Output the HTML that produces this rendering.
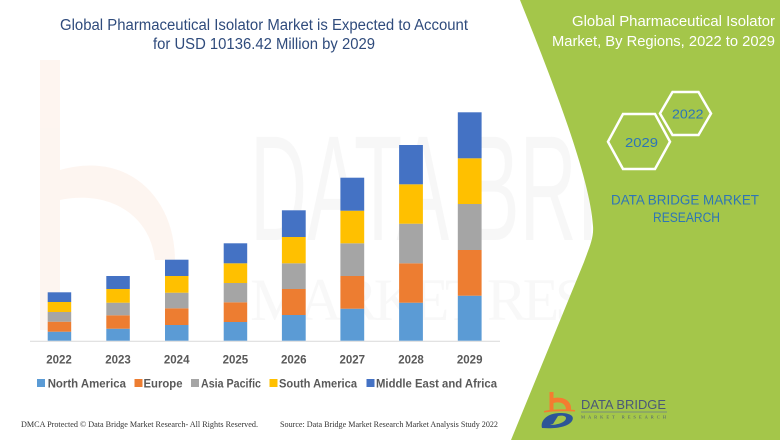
<!DOCTYPE html>
<html>
<head>
<meta charset="utf-8">
<style>
html,body{margin:0;padding:0;background:#fff;}
svg{display:block;}
</style>
</head>
<body>
<svg width="780" height="440" viewBox="0 0 780 440" xmlns="http://www.w3.org/2000/svg">
  <rect width="780" height="440" fill="#ffffff"/>
  <!-- faint watermark -->
  <g opacity="0.5">
    <path d="M40,60 L40,330 L60,330 L60,60 Z" fill="#fdece2"/>
    <path d="M60,170 C130,150 175,200 175,260 L155,260 C150,215 110,190 60,200 Z" fill="#fdece2"/>
    <text x="250" y="240" font-family="Liberation Sans, sans-serif" font-size="150" fill="#f1f1f1" textLength="520" lengthAdjust="spacingAndGlyphs">DATA BRIDGE</text>
    <text x="250" y="320" font-family="Liberation Serif, serif" font-size="60" fill="#f3f3f3" textLength="520" lengthAdjust="spacing">MARKET RESEARCH</text>
  </g>
  <!-- green panel -->
  <path d="M520,0 C548,70 590,175 593,226 C594,238 589,248 584,262 L511,440 L780,440 L780,0 Z" fill="#a4c64a"/>

  <!-- title -->
  <text x="60" y="30" font-family="Liberation Sans, sans-serif" font-size="15.5" fill="#2f4b7c" textLength="408" lengthAdjust="spacingAndGlyphs">Global Pharmaceutical Isolator Market is Expected to Account</text>
  <text x="153" y="49" font-family="Liberation Sans, sans-serif" font-size="15.5" fill="#2f4b7c" textLength="222" lengthAdjust="spacingAndGlyphs">for USD 10136.42 Million by 2029</text>

  <!-- right title -->
  <text x="572" y="26" font-family="Liberation Sans, sans-serif" font-size="14.5" fill="#ffffff" textLength="203" lengthAdjust="spacingAndGlyphs">Global Pharmaceutical Isolator</text>
  <text x="552" y="46" font-family="Liberation Sans, sans-serif" font-size="14.5" fill="#ffffff" textLength="223" lengthAdjust="spacingAndGlyphs">Market, By Regions, 2022 to 2029</text>

  <!-- hexagons -->
  <polygon points="660,113.5 672.5,92 698.5,92 711,113.5 698.5,135 672.5,135" fill="none" stroke="#ffffff" stroke-width="2.5"/>
  <polygon points="608,141.7 623,114 655,114 670,141.7 655,169 623,169" fill="none" stroke="#ffffff" stroke-width="2.5"/>
  <text x="672" y="118.5" font-family="Liberation Sans, sans-serif" font-size="12.5" fill="#2e75b6" textLength="31.5" lengthAdjust="spacingAndGlyphs">2022</text>
  <text x="625" y="146.8" font-family="Liberation Sans, sans-serif" font-size="13" fill="#2e75b6" textLength="33" lengthAdjust="spacingAndGlyphs">2029</text>

  <text x="611" y="204.5" font-family="Liberation Sans, sans-serif" font-size="13.5" fill="#2e75b6" textLength="148" lengthAdjust="spacingAndGlyphs">DATA BRIDGE MARKET</text>
  <text x="653" y="222" font-family="Liberation Sans, sans-serif" font-size="13.5" fill="#2e75b6" textLength="67" lengthAdjust="spacingAndGlyphs">RESEARCH</text>

  <!-- axis line -->
  <line x1="30" y1="341.2" x2="500" y2="341.2" stroke="#d9d9d9" stroke-width="1"/>

  <!-- bars -->
  <g>
    <!-- 2022 -->
    <rect x="47.7" y="331.7" width="23.5" height="9" fill="#5b9bd5"/>
    <rect x="47.7" y="321.7" width="23.5" height="10" fill="#ed7d31"/>
    <rect x="47.7" y="312" width="23.5" height="9.7" fill="#a5a5a5"/>
    <rect x="47.7" y="302" width="23.5" height="10" fill="#ffc000"/>
    <rect x="47.7" y="292.3" width="23.5" height="9.7" fill="#4472c4"/>
    <!-- 2023 -->
    <rect x="106.3" y="328.7" width="23.5" height="12" fill="#5b9bd5"/>
    <rect x="106.3" y="315.3" width="23.5" height="13.4" fill="#ed7d31"/>
    <rect x="106.3" y="302.7" width="23.5" height="12.6" fill="#a5a5a5"/>
    <rect x="106.3" y="289" width="23.5" height="13.7" fill="#ffc000"/>
    <rect x="106.3" y="276" width="23.5" height="13" fill="#4472c4"/>
    <!-- 2024 -->
    <rect x="165" y="325" width="23.5" height="15.7" fill="#5b9bd5"/>
    <rect x="165" y="308.3" width="23.5" height="16.7" fill="#ed7d31"/>
    <rect x="165" y="292.7" width="23.5" height="15.6" fill="#a5a5a5"/>
    <rect x="165" y="276" width="23.5" height="16.7" fill="#ffc000"/>
    <rect x="165" y="259.7" width="23.5" height="16.3" fill="#4472c4"/>
    <!-- 2025 -->
    <rect x="223.7" y="322" width="23.5" height="18.7" fill="#5b9bd5"/>
    <rect x="223.7" y="302.3" width="23.5" height="19.7" fill="#ed7d31"/>
    <rect x="223.7" y="283" width="23.5" height="19.3" fill="#a5a5a5"/>
    <rect x="223.7" y="263.3" width="23.5" height="19.7" fill="#ffc000"/>
    <rect x="223.7" y="243.3" width="23.5" height="20" fill="#4472c4"/>
    <!-- 2026 -->
    <rect x="281.9" y="315" width="23.8" height="25.7" fill="#5b9bd5"/>
    <rect x="281.9" y="289" width="23.8" height="26" fill="#ed7d31"/>
    <rect x="281.9" y="263.3" width="23.8" height="25.7" fill="#a5a5a5"/>
    <rect x="281.9" y="237" width="23.8" height="26.3" fill="#ffc000"/>
    <rect x="281.9" y="210.3" width="23.8" height="26.7" fill="#4472c4"/>
    <!-- 2027 -->
    <rect x="340.4" y="308.7" width="23.8" height="32" fill="#5b9bd5"/>
    <rect x="340.4" y="276" width="23.8" height="32.7" fill="#ed7d31"/>
    <rect x="340.4" y="243.3" width="23.8" height="32.7" fill="#a5a5a5"/>
    <rect x="340.4" y="210.7" width="23.8" height="32.6" fill="#ffc000"/>
    <rect x="340.4" y="177.7" width="23.8" height="33" fill="#4472c4"/>
    <!-- 2028 -->
    <rect x="399.1" y="302.7" width="23.8" height="38" fill="#5b9bd5"/>
    <rect x="399.1" y="263.3" width="23.8" height="39.4" fill="#ed7d31"/>
    <rect x="399.1" y="223.7" width="23.8" height="39.6" fill="#a5a5a5"/>
    <rect x="399.1" y="184.3" width="23.8" height="39.4" fill="#ffc000"/>
    <rect x="399.1" y="145" width="23.8" height="39.3" fill="#4472c4"/>
    <!-- 2029 -->
    <rect x="457.8" y="295.7" width="23.8" height="45" fill="#5b9bd5"/>
    <rect x="457.8" y="250" width="23.8" height="45.7" fill="#ed7d31"/>
    <rect x="457.8" y="204" width="23.8" height="46" fill="#a5a5a5"/>
    <rect x="457.8" y="158.3" width="23.8" height="45.7" fill="#ffc000"/>
    <rect x="457.8" y="112.3" width="23.8" height="46" fill="#4472c4"/>
  </g>

  <!-- year labels -->
  <g font-family="Liberation Sans, sans-serif" font-size="11.5" font-weight="bold" fill="#595959" text-anchor="middle">
    <text x="59" y="363.5">2022</text>
    <text x="118" y="363.5">2023</text>
    <text x="176.7" y="363.5">2024</text>
    <text x="235.4" y="363.5">2025</text>
    <text x="293.8" y="363.5">2026</text>
    <text x="352.3" y="363.5">2027</text>
    <text x="411" y="363.5">2028</text>
    <text x="469.7" y="363.5">2029</text>
  </g>

  <!-- legend -->
  <g font-family="Liberation Sans, sans-serif" font-size="11.5" font-weight="bold" fill="#595959">
    <rect x="37" y="379" width="8" height="8" fill="#5b9bd5"/>
    <text x="47.7" y="387.5" textLength="78.3" lengthAdjust="spacingAndGlyphs">North America</text>
    <rect x="134.5" y="379" width="8" height="8" fill="#ed7d31"/>
    <text x="143.5" y="387.5" textLength="39" lengthAdjust="spacingAndGlyphs">Europe</text>
    <rect x="191" y="379" width="8" height="8" fill="#a5a5a5"/>
    <text x="201" y="387.5" textLength="60" lengthAdjust="spacingAndGlyphs">Asia Pacific</text>
    <rect x="269.5" y="379" width="8" height="8" fill="#ffc000"/>
    <text x="279" y="387.5" textLength="78" lengthAdjust="spacingAndGlyphs">South America</text>
    <rect x="366.5" y="379" width="8" height="8" fill="#4472c4"/>
    <text x="376" y="387.5" textLength="121" lengthAdjust="spacingAndGlyphs">Middle East and Africa</text>
  </g>

  <!-- footer -->
  <text x="21" y="427" font-family="Liberation Serif, serif" font-size="8.5" fill="#333333" textLength="237" lengthAdjust="spacingAndGlyphs">DMCA Protected © Data Bridge Market Research- All Rights Reserved.</text>
  <text x="280" y="427" font-family="Liberation Serif, serif" font-size="8.5" fill="#333333" textLength="218" lengthAdjust="spacingAndGlyphs">Source: Data Bridge Market Research Market Analysis Study 2022</text>

  <!-- logo -->
  <g>
    <rect x="549.5" y="392" width="4" height="18" fill="#f47c30"/>
    <path d="M553.5,398 C565,396 572,402 571,410 L566,410 C566,404 561,401 553.5,403 Z" fill="#f47c30"/>
    <path d="M544,411 C552,409 565,409 575,410 L575,411.5 C565,411 552,411 544,412.5 Z" fill="#f47c30"/>
    <path d="M542,428 C540,420 548,413 560,413 C570,413 575,416 572,421 C568,427 556,429 542,428 Z M550,425 C558,425 566,422 566,418 C566,416 562,415 558,416 L553,424 Z" fill="#2d5597" fill-rule="evenodd"/>
    <text x="581" y="409" font-family="Liberation Sans, sans-serif" font-size="12.5" fill="#4a5878" textLength="85" lengthAdjust="spacingAndGlyphs">DATA BRIDGE</text>
    <line x1="581" y1="412" x2="667" y2="412" stroke="#6a7a8a" stroke-width="0.7"/>
    <text x="581" y="418.5" font-family="Liberation Serif, serif" font-size="4.5" fill="#4a5878" textLength="85" lengthAdjust="spacing">MARKET RESEARCH</text>
  </g>
</svg>
</body>
</html>
